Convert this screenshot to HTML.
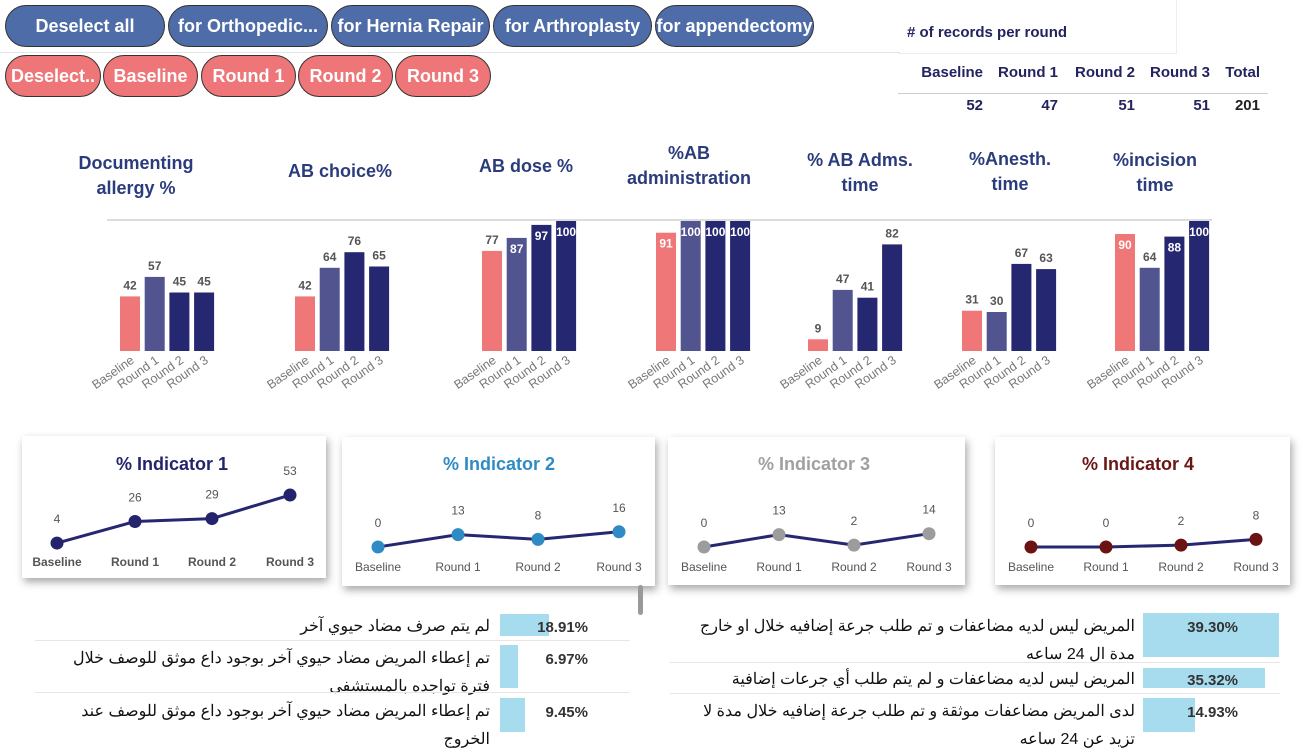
<!DOCTYPE html>
<html><head><meta charset="utf-8">
<style>
body{margin:0;width:1302px;height:732px;overflow:hidden;background:#fff;font-family:"Liberation Sans","Noto Sans CJK SC",sans-serif;position:relative}
.btn{position:absolute;height:40px;border:1px solid #333;border-radius:21px;color:#fff;font-weight:bold;font-size:18px;display:flex;align-items:center;justify-content:center;white-space:nowrap;overflow:hidden;box-sizing:border-box;font-family:"Liberation Sans Narrow","Liberation Sans",sans-serif}
.b1{background:#4e6ca8;top:5px;height:42px}
.b2{background:#ee7678;top:55px;height:42px}
.card{position:absolute;background:#fff;box-shadow:2px 4px 8px rgba(0,0,0,.35)}
.ar{position:absolute;direction:rtl;text-align:right;font-family:"Liberation Sans","Noto Sans CJK SC",sans-serif;font-size:16px;color:#111;line-height:28px}
.pct{position:absolute;font-size:15px;font-weight:bold;color:#333}
.bar{position:absolute;background:#a6dced}
</style></head><body>
<div class="btn b1" style="left:5px;width:160px">Deselect all</div>
<div class="btn b1" style="left:168px;width:160px">for Orthopedic...</div>
<div class="btn b1" style="left:331px;width:159px">for Hernia Repair</div>
<div class="btn b1" style="left:493px;width:159px">for Arthroplasty</div>
<div class="btn b1" style="left:655px;width:159px">for appendectomy</div>
<div style="position:absolute;left:0;top:52px;width:900px;height:1px;background:#e4e4e4"></div>
<div class="btn b2" style="left:5px;width:96px">Deselect..</div>
<div class="btn b2" style="left:103px;width:95px">Baseline</div>
<div class="btn b2" style="left:201px;width:95px">Round 1</div>
<div class="btn b2" style="left:298px;width:95px">Round 2</div>
<div class="btn b2" style="left:395px;width:96px">Round 3</div>

<div style="position:absolute;left:898px;top:0;width:278px;height:53px;border-right:1px solid #eee;border-bottom:1px solid #eee"></div>
<div style="position:absolute;left:907px;top:24px;font-size:15px;font-weight:bold;color:#23235f"># of records per round</div>
<div id="tbl"></div>

<div class="card" style="left:22px;top:436px;width:304px;height:142px"></div>
<div class="card" style="left:342px;top:437px;width:313px;height:149px"></div>
<div class="card" style="left:668px;top:437px;width:297px;height:148px"></div>
<div class="card" style="left:995px;top:437px;width:295px;height:148px"></div>
<div style="position:absolute;left:638px;top:585px;width:5px;height:30px;background:#999;border-radius:3px"></div>

<svg id="svg" width="1302" height="732" style="position:absolute;left:0;top:0"></svg>
<div id="tables"></div>

<script>
const rounds=["Baseline","Round 1","Round 2","Round 3"];
const allergyVals=[42,57,45,45];
const choiceVals=[42,64,76,65];
const doseVals=[77,87,97,100];
const adminVals=[91,100,100,100];
const admsTimeVals=[9,47,41,82];
const anesthVals=[31,30,67,63];
const incisionVals=[90,64,88,100];
const recordCounts=[52,47,51,51];
const recordTotal=201;
const ind1=[4,26,29,53];
const ind2=[0,13,8,16];
const ind3=[0,13,2,14];
const ind4=[0,0,2,8];
const leftLabels=["لم يتم صرف مضاد حيوي آخر","تم إعطاء المريض مضاد حيوي آخر بوجود داع موثق للوصف خلال فترة تواجده بالمستشفى","تم إعطاء المريض مضاد حيوي آخر بوجود داع موثق للوصف عند الخروج"];
const leftPcts=[18.91,6.97,9.45];
const rightLabels=["المريض ليس لديه مضاعفات و تم طلب جرعة إضافيه خلال او خارج مدة ال 24 ساعه","المريض ليس لديه مضاعفات و لم يتم طلب أي جرعات إضافية","لدى المريض مضاعفات موثقة و تم طلب جرعة إضافيه خلال مدة لا تزيد عن 24 ساعه"];
const rightPcts=[39.30,35.32,14.93];

const NS="http://www.w3.org/2000/svg";
const svg=document.getElementById('svg');
function mk(tag,attrs,txt){const e=document.createElementNS(NS,tag);for(const k in attrs)e.setAttribute(k,attrs[k]);if(txt!==undefined)e.textContent=txt;svg.appendChild(e);return e;}

let sep=mk('line',{x1:107,y1:220,x2:1212,y2:220,stroke:'#ddd','stroke-width':2});



const charts=[
 {t:["Documenting","allergy  %"],ty:163,cx:136,x0:120,v:allergyVals,n:'allergy'},
 {t:["AB choice%"],ty:171,cx:340,x0:295,v:choiceVals,n:'ab-choice'},
 {t:["AB dose %"],ty:166,cx:526,x0:482,v:doseVals,n:'ab-dose'},
 {t:["%AB","administration"],ty:153,cx:689,x0:656,v:adminVals,n:'ab-administration'},
 {t:["% AB Adms.","time"],ty:160,cx:860,x0:808,v:admsTimeVals,n:'ab-adms-time'},
 {t:["%Anesth.","time"],ty:159,cx:1010,x0:962,v:anesthVals,n:'anesth-time'},
 {t:["%incision","time"],ty:160,cx:1155,x0:1115,v:incisionVals,n:'incision-time'}
];
const colors=["#ef7778","#52548f","#262771","#262771"];
const yB=v=>351-v*1.3;
charts.forEach(c=>{
  c.t.forEach((line,i)=>{
    const t=mk('text',{x:c.cx,y:c.ty+i*25+6,'text-anchor':'middle','font-size':18,'font-weight':'bold',fill:'#2b3c7c'},line);
    
    
  });
  c.v.forEach((v,i)=>{
    const x=c.x0+i*24.7;
    const r=mk('rect',{x:x,y:yB(v),width:20,height:351-yB(v),fill:colors[i]});
    
    
    const inside=v>=87;
    const lt=mk('text',{x:x+10,y:inside?yB(v)+15:yB(v)-7,'text-anchor':'middle','font-size':12,'font-weight':'bold',fill:inside?'#fff':'#555'},v);
    
    
    const xl=mk('text',{x:x+15,y:362,'text-anchor':'end','font-size':12.5,fill:'#777',transform:`rotate(-35 ${x+15} 362)`},rounds[i]);
    
    
  });
});

const lines=[
 {v:ind1,xs:[57,135,212,290],k:0.98,title:"% Indicator 1",tc:"#23246b",tx:172,pc:"#23246b",ly:566,n:'indicator1'},
 {v:ind2,xs:[378,458,538,619],k:0.95,title:"% Indicator 2",tc:"#2f8bc4",tx:499,pc:"#2f8bc4",ly:571,n:'indicator2'},
 {v:ind3,xs:[704,779,854,929],k:0.95,title:"% Indicator 3",tc:"#a0a0a0",tx:814,pc:"#9c9c9c",ly:571,n:'indicator3'},
 {v:ind4,xs:[1031,1106,1181,1256],k:0.95,title:"% Indicator 4",tc:"#6b1616",tx:1138,pc:"#6b1212",ly:571,n:'indicator4'}
];
lines.forEach(L=>{
  const y=v=>547-v*L.k;
  const tt=mk('text',{x:L.tx,y:470,'text-anchor':'middle','font-size':18,'font-weight':'bold',fill:L.tc},L.title);
  
  
  const pts=L.v.map((v,i)=>L.xs[i]+','+y(v)).join(' ');
  const pl=mk('polyline',{points:pts,fill:'none',stroke:'#262771','stroke-width':3});
  
  
  L.v.forEach((v,i)=>{
    const c=mk('circle',{cx:L.xs[i],cy:y(v),r:6.5,fill:L.pc});
    
    
    const t=mk('text',{x:L.xs[i],y:y(v)-20,'text-anchor':'middle','font-size':12,fill:'#555'},v);
    
    
    const xl=mk('text',{x:L.xs[i],y:L.ly,'text-anchor':'middle','font-size':12,fill:'#555','font-weight':L.n==='indicator1'?'bold':'normal'},rounds[i]);
    
    
  });
});

const tbl=document.getElementById('tbl');
const colR=[983,1058,1135,1210,1260];
const heads=rounds.concat(["Total"]);
const vals=recordCounts.concat([recordTotal]);
heads.forEach((h,i)=>{
  const d=document.createElement('div');
  d.style.cssText=`position:absolute;right:${1302-colR[i]}px;top:64px;font-size:15px;font-weight:bold;color:#23235f;white-space:nowrap`;
  d.textContent=h;
  
  
  tbl.appendChild(d);
  const e=document.createElement('div');
  e.style.cssText=`position:absolute;right:${1302-colR[i]}px;top:97px;font-size:15px;font-weight:bold;color:${i==4?'#222':'#23235f'}`;
  e.textContent=vals[i];
  
  
  tbl.appendChild(e);
});
const hl=document.createElement('div');
hl.style.cssText='position:absolute;left:898px;top:93px;width:370px;height:1px;background:#ccc';


tbl.appendChild(hl);

const tables=document.getElementById('tables');
function makeTable(labels,pcts,opt){
  labels.forEach((lab,i)=>{
    const top=opt.tops[i];
    const a=document.createElement('div');
    a.className='ar';
    a.style.cssText=`left:${opt.tl}px;width:${opt.tw}px;top:${top}px`;
    a.textContent=lab;
    
    
    tables.appendChild(a);
    const b=document.createElement('div');
    b.className='bar';
    b.style.cssText=`left:${opt.bx}px;top:${opt.btops[i]}px;width:${pcts[i]*opt.k}px;height:${opt.bh[i]}px`;
    
    
    tables.appendChild(b);
    const p=document.createElement('div');
    p.className='pct';
    p.style.cssText=`right:${1302-opt.pr}px;top:${top+6}px`;
    p.textContent=pcts[i].toFixed(2)+'%';
    
    
    tables.appendChild(p);
    if(i<labels.length-1){
      const l=document.createElement('div');
      l.style.cssText=`position:absolute;left:${opt.ll}px;top:${opt.lines[i]}px;width:${opt.lw}px;height:1px;background:#e6e6e6`;
      
      
      tables.appendChild(l);
    }
  });
}
makeTable(leftLabels,leftPcts,{n:'left-table',tl:62,tw:428,tops:[613,645,698],bx:500,btops:[614,645,698],bh:[22,43,34],k:2.6,pr:588,ll:35,lw:595,lines:[640,692]});
makeTable(rightLabels,rightPcts,{n:'right-table',tl:690,tw:445,tops:[613,666,698],bx:1143,btops:[613,668,698],bh:[44,20,34],k:3.46,pr:1238,ll:670,lw:610,lines:[662,693]});
</script>
</body></html>
